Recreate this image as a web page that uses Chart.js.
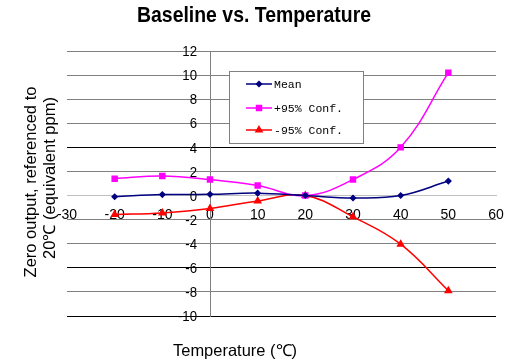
<!DOCTYPE html>
<html>
<head>
<meta charset="utf-8">
<script src="https://cdn.jsdelivr.net/npm/chart.js@4.4.0/dist/chart.umd.min.js"></script>
<style>
  body { margin: 0; background: #fff; }
</style>
</head>
<body>
<canvas id="chart" width="531" height="362"></canvas>
<script>
// data
const temps = [-20, -10, 0, 10, 20, 30, 40, 50];
const meanVals = [-0.1, 0.08, 0.1, 0.2, 0, -0.2, 0, 1.2];
const upperVals = [1.4, 1.63, 1.33, 0.83, 0, 1.33, 4.0, 10.2];
const lowerVals = [-1.58, -1.44, -1.08, -0.45, 0, -1.77, -4.04, -7.9];
const seriesNames = ['Mean', '+95% Conf.', '-95% Conf.'];
const xRange = [-30, 60, 10];
const yRange = [-10, 12, 2];
const darkGridValues = [4, -6, -10];

const sansFont = "'Liberation Sans', Arial, sans-serif";

function toPoints(vals) {
  return temps.map((t, i) => ({ x: t, y: vals[i] }));
}

// text squeezed horizontally, like the narrow type of the original
function narrowText(ctx, text, x, y, scaleX) {
  ctx.save();
  ctx.translate(x, y);
  ctx.scale(scaleX, 1);
  ctx.fillText(text, 0, 0);
  ctx.restore();
}

function fitText(ctx, text, x, y, width) {
  const w = ctx.measureText(text).width;
  narrowText(ctx, text, x, y, Math.min(1, width / w));
}

// titles, plus y tick labels (chart.js puts no gap before them on a centred axis)
const textPlugin = {
  id: 'texts',
  afterDraw(chart) {
    const ctx = chart.ctx;
    ctx.save();
    ctx.fillStyle = '#000';
    ctx.textAlign = 'center';
    ctx.textBaseline = 'middle';
    ctx.font = 'bold 22px ' + sansFont;
    fitText(ctx, 'Baseline vs. Temperature', 254, 16, 234);
    ctx.font = '16.5px ' + sansFont;
    fitText(ctx, 'Temperature (\u2103)', 235, 351, 124);

    const ys = chart.scales.y;
    const axisX = chart.scales.x.getPixelForValue(0);
    ctx.font = '15px ' + sansFont;
    ctx.textAlign = 'right';
    ys.ticks.forEach(t => {
      narrowText(ctx, String(t.value), axisX - 13, ys.getPixelForValue(t.value) + 1, 0.88);
    });

    ctx.textAlign = 'center';
    ctx.font = '16.5px ' + sansFont;
    ctx.translate(31, 182);
    ctx.rotate(-Math.PI / 2);
    ctx.fillText('Zero output, referenced to', 0, 0);
    ctx.fillText('20\u2103 (equivalent ppm)', 4, 19);
    ctx.restore();
  }
};

// legend box sitting inside the plot
const boxLegend = {
  id: 'boxLegend',
  afterDatasetsDraw(chart) {
    const ctx = chart.ctx;
    ctx.save();
    ctx.fillStyle = '#fff';
    ctx.strokeStyle = '#808080';
    ctx.lineWidth = 1;
    ctx.fillRect(229.5, 71.5, 134, 72);
    ctx.strokeRect(229.5, 71.5, 134, 72);
    const rows = [84, 108, 130];
    chart.data.datasets.forEach((ds, i) => {
      const y = rows[i];
      ctx.strokeStyle = ds.borderColor;
      ctx.lineWidth = 1.5;
      ctx.beginPath();
      ctx.moveTo(246, y);
      ctx.lineTo(272, y);
      ctx.stroke();
      ctx.fillStyle = ds.pointBackgroundColor;
      Chart.helpers.drawPoint(ctx, {
        pointStyle: ds.pointStyle, radius: ds.pointRadius, rotation: 0, borderWidth: 1
      }, 259, y);
      ctx.fillStyle = '#000';
      ctx.font = "11.5px 'Liberation Mono', monospace";
      ctx.textAlign = 'left';
      ctx.textBaseline = 'middle';
      ctx.fillText(ds.label, 274, y + 1);
    });
    ctx.restore();
  }
};

new Chart(document.getElementById('chart'), {
  type: 'line',
  data: {
    datasets: [
      {
        label: seriesNames[0],
        data: toPoints(meanVals),
        borderColor: '#000080',
        backgroundColor: '#000080',
        pointBackgroundColor: '#000080',
        pointBorderColor: '#000080',
        pointStyle: 'rectRot',
        pointRadius: 2.5,
        borderWidth: 1.5,
        tension: 0.4
      },
      {
        label: seriesNames[1],
        data: toPoints(upperVals),
        borderColor: '#ff00ff',
        backgroundColor: '#ff00ff',
        pointBackgroundColor: '#ff00ff',
        pointBorderColor: '#ff00ff',
        pointStyle: 'rect',
        pointRadius: 3.5,
        borderWidth: 1.5,
        tension: 0.4
      },
      {
        label: seriesNames[2],
        data: toPoints(lowerVals),
        borderColor: '#ff0000',
        backgroundColor: '#ff0000',
        pointBackgroundColor: '#ff0000',
        pointBorderColor: '#ff0000',
        pointStyle: 'triangle',
        pointRadius: 3.5,
        borderWidth: 1.5,
        tension: 0.4
      }
    ]
  },
  options: {
    responsive: false,
    animation: false,
    layout: { padding: { left: 67, right: 35, top: 51, bottom: 46 } },
    plugins: {
      legend: { display: false },
      title: { display: false },
      tooltip: { enabled: false }
    },
    scales: {
      x: {
        type: 'linear',
        position: { y: 0 },
        min: xRange[0], max: xRange[1],
        ticks: { stepSize: xRange[2], color: '#000', padding: 11, font: { family: sansFont, size: 14 } },
        grid: { display: true, drawOnChartArea: false, drawTicks: false },
        border: { color: '#c0c0c0', width: 1 }
      },
      y: {
        type: 'linear',
        position: { x: 0 },
        min: yRange[0], max: yRange[1],
        ticks: { stepSize: yRange[2], display: false },
        grid: {
          drawTicks: false,
          color: c => c.tick && c.tick.value === 0 ? '#c0c0c0'
            : (c.tick && darkGridValues.includes(c.tick.value) ? '#000' : '#808080')
        },
        border: { color: '#808080', width: 1 }
      }
    }
  },
  plugins: [textPlugin, boxLegend]
});
</script>
</body>
</html>
